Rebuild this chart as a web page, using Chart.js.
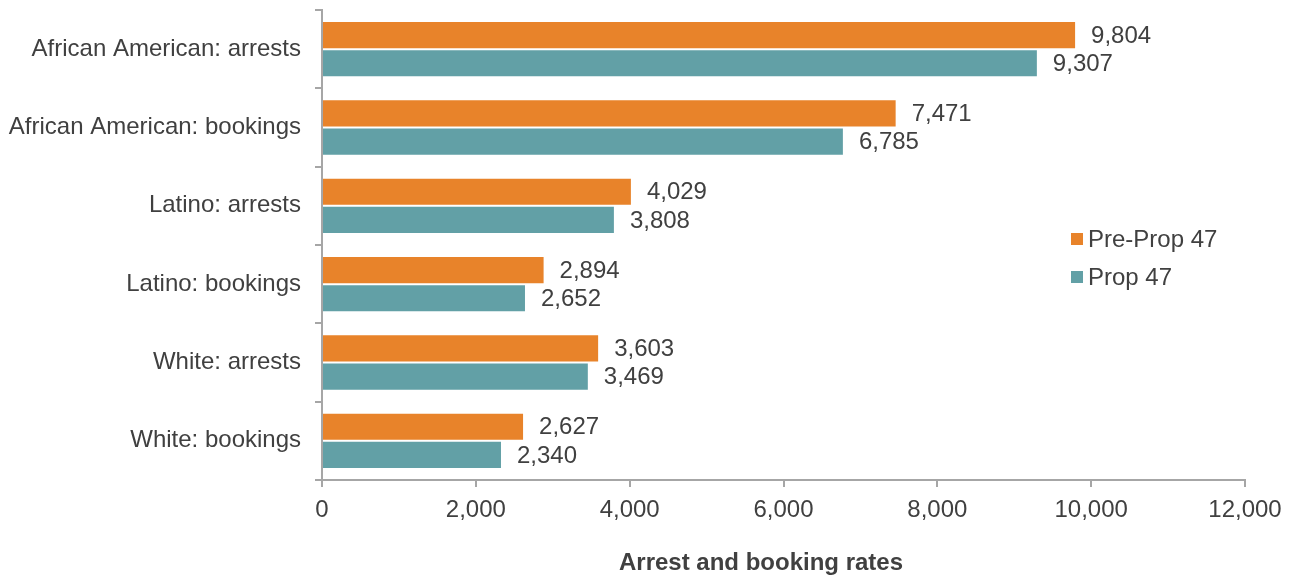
<!DOCTYPE html>
<html>
<head>
<meta charset="utf-8">
<script src="https://cdn.jsdelivr.net/npm/chart.js@4"></script>
<style>
  html, body { margin: 0; padding: 0; background: #fff; }
</style>
</head>
<body>
<canvas id="chart" width="1291" height="578"></canvas>
<script>
var categories = ["African American: arrests", "African American: bookings", "Latino: arrests", "Latino: bookings", "White: arrests", "White: bookings"]
var prePropValues = [9804, 7471, 4029, 2894, 3603, 2627]
var propValues = [9307, 6785, 3808, 2652, 3469, 2340]
var seriesNames = ["Pre-Prop 47", "Prop 47"]
var seriesColors = ["#E8832A", "#62A0A6"]
var xTicks = [0, 2000, 4000, 6000, 8000, 10000, 12000]
var xTitle = "Arrest and booking rates"

var FONT = "'Liberation Sans', Arial, sans-serif"
var textColor = "#404040"
var axisColor = "#A6A6A6"

// value labels at the end of each bar
var valueLabels = {
    id: 'valueLabels',
    afterDatasetsDraw(chart) {
        var ctx = chart.ctx
        ctx.save()
        ctx.font = "24px " + FONT
        ctx.fillStyle = textColor
        ctx.textBaseline = 'middle'
        ctx.textAlign = 'left'
        chart.data.datasets.forEach(function (ds, i) {
            chart.getDatasetMeta(i).data.forEach(function (bar, j) {
                ctx.fillText(ds.data[j].toLocaleString('en-US'), bar.x + 15, bar.y + 1)
            })
        })
        ctx.restore()
    }
}

// legend inside the plot area + axis title
var extras = {
    id: 'extras',
    afterDraw(chart) {
        var ctx = chart.ctx
        ctx.save()
        ctx.font = "24px " + FONT
        ctx.textBaseline = 'middle'
        chart.data.datasets.forEach(function (ds, i) {
            var y = 239 + i * 38
            ctx.fillStyle = ds.backgroundColor
            ctx.fillRect(1071, y - 6, 12, 12)
            ctx.fillStyle = textColor
            ctx.fillText(ds.label, 1088, y + 1)
        })
        ctx.font = "bold 24px " + FONT
        ctx.textAlign = 'center'
        ctx.fillText(xTitle, 761, 563)
        ctx.restore()
    }
}

new Chart(document.getElementById('chart').getContext('2d'), {
    type: 'bar',
    data: {
        labels: categories,
        datasets: [
            { label: seriesNames[0], data: prePropValues, backgroundColor: seriesColors[0], borderColor: '#ffffff', borderWidth: 1 },
            { label: seriesNames[1], data: propValues, backgroundColor: seriesColors[1], borderColor: '#ffffff', borderWidth: 1 }
        ]
    },
    options: {
        indexAxis: 'y',
        responsive: false,
        animation: false,
        devicePixelRatio: 1,
        layout: { padding: { top: 10, right: 46, left: 0, bottom: 0 } },
        plugins: {
            legend: { display: false },
            tooltip: { enabled: false }
        },
        datasets: {
            bar: { categoryPercentage: 0.72, barPercentage: 1 }
        },
        scales: {
            x: {
                min: 0,
                max: 12000,
                afterBuildTicks: function (scale) {
                    scale.ticks = xTicks.map(function (v) { return { value: v } })
                },
                afterFit: function (scale) {
                    scale.height = 98
                    scale.paddingLeft = 0
                    scale.paddingRight = 0
                },
                ticks: {
                    color: textColor,
                    font: { family: FONT, size: 24 },
                    padding: 9,
                    maxRotation: 0,
                    callback: function (v) { return v.toLocaleString('en-US') }
                },
                grid: { drawOnChartArea: false, color: axisColor, lineWidth: 2, tickLength: 7 },
                border: { color: axisColor, width: 2 }
            },
            y: {
                afterFit: function (scale) {
                    scale.width = 322
                    scale.paddingTop = 0
                    scale.paddingBottom = 0
                },
                ticks: {
                    color: textColor,
                    font: { family: FONT, size: 24 },
                    padding: 14
                },
                grid: { drawOnChartArea: false, offset: true, color: axisColor, lineWidth: 2, tickLength: 7 },
                border: { color: axisColor, width: 2 }
            }
        }
    },
    plugins: [valueLabels, extras]
})
</script>
</body>
</html>
